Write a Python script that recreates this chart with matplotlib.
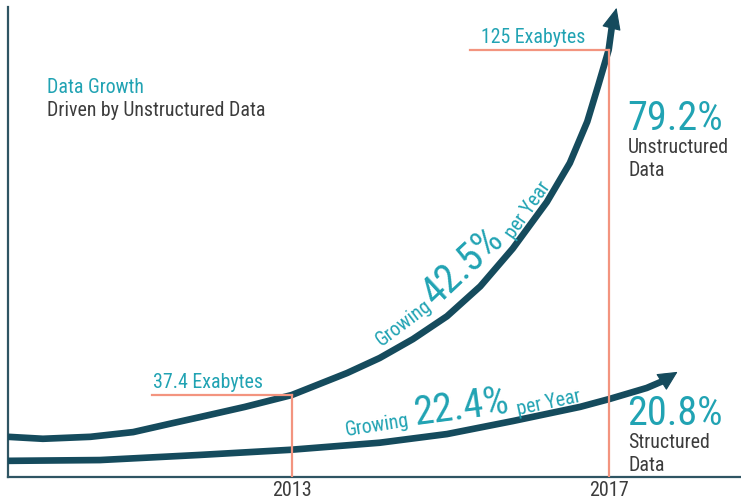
import matplotlib
matplotlib.use('Agg')
import matplotlib.pyplot as plt
from matplotlib import font_manager
from matplotlib.patches import FancyArrowPatch

# Data (year, exabytes); last point is the arrow tip
unstructured_years = [2009.42, 2009.86, 2010.46, 2011.00, 2011.46, 2011.84, 2012.41,
                      2013.00, 2013.70, 2014.11, 2014.53, 2014.96, 2015.38, 2015.79,
                      2016.22, 2016.51, 2016.73, 2016.87, 2017.00, 2017.04, 2017.10]
unstructured_eb = [26.8, 26.3, 26.8, 28.0, 30.1, 31.8, 34.4,
                   37.4, 43.0, 46.8, 51.6, 57.4, 65.0, 74.6,
                   86.4, 96.3, 106.8, 116.1, 125.0, 130.9, 135.7]

structured_years = [2009.42, 2010.58, 2011.84, 2012.98, 2014.11, 2014.96,
                    2015.79, 2016.64, 2017.01, 2017.48, 2017.69, 2017.87]
structured_eb = [20.7, 20.9, 22.2, 23.5, 25.3, 27.5, 30.8, 34.4, 36.4, 39.2, 41.0, 43.3]

marker_years = [2013, 2017]
marker_eb = [37.4, 125.0]
marker_labels = ['37.4 Exabytes', '125 Exabytes']
marker_line_start = [2011.24, 2015.25]

tick_years = [2013, 2017]
tick_labels = ['2013', '2017']

DARK = '#154b5d'
TEAL = '#21a3b3'
SALMON = '#f3947f'
GRAY = '#3c3c3c'
AXIS = '#2f5563'
SMALL = 14.3
BIG = 29

# pick a condensed font if one is installed
names = {f.name for f in font_manager.fontManager.ttflist}
font = 'DejaVu Sans'
for cand in ['Roboto Condensed', 'Liberation Sans Narrow', 'Arial Narrow', 'Roboto']:
    if cand in names:
        font = cand
        break
plt.rcParams['font.family'] = [font, 'DejaVu Sans']

W, H = 741, 499
fig = plt.figure(figsize=(W / 100, H / 100), dpi=100)
ax = fig.add_axes([8 / W, (H - 477) / H, (W - 8) / W, (477 - 7) / H])
ax.set_xlim(2009.42, 2018.67)
ax.set_ylim(16.6, 135.9)

for s in ['top', 'right']:
    ax.spines[s].set_visible(False)
for s in ['left', 'bottom']:
    ax.spines[s].set_color(AXIS)
    ax.spines[s].set_linewidth(1.6)
ax.set_yticks([])
ax.set_xticks(tick_years)
ax.set_xticklabels(tick_labels, fontsize=14.5, color=GRAY)
ax.tick_params(axis='x', length=0, pad=3)


def curve(xs, ys, head_len):
    # line up to the head base, then a filled head to the tip
    ax.plot(xs[:-1], ys[:-1], color=DARK, lw=4.8, solid_capstyle='butt',
            solid_joinstyle='round', zorder=3)
    arr = FancyArrowPatch((xs[-2], ys[-2]), (xs[-1], ys[-1]),
                          arrowstyle=f'-|>,head_length={head_len},head_width=0.62',
                          mutation_scale=10, color=DARK, lw=0.8,
                          shrinkA=0, shrinkB=0, zorder=3)
    ax.add_patch(arr)


curve(unstructured_years, unstructured_eb, 1.4)
curve(structured_years, structured_eb, 1.26)

# salmon guide lines
for yr, eb, x0 in zip(marker_years, marker_eb, marker_line_start):
    ax.plot([x0, yr], [eb, eb], color=SALMON, lw=1.6, zorder=4)
    ax.plot([yr, yr], [ax.get_ylim()[0], eb], color=SALMON, lw=1.6, zorder=4)


def px(x, y):
    return x / W, 1 - y / H


def label(x, y, s, size=SMALL, color=TEAL):
    fig.text(*px(x, y), s, fontsize=size, color=color, ha='left', va='baseline')


label(153, 388, marker_labels[0])
label(481, 43, marker_labels[1])

# header
label(47, 93, 'Data Growth')
label(47, 116, 'Driven by Unstructured Data', color=GRAY)

# right-hand shares
label(627, 130, '79.2%', size=BIG)
label(628, 153, 'Unstructured', color=GRAY)
label(628, 176, 'Data', color=GRAY)
label(627, 425, '20.8%', size=BIG)
label(628, 448, 'Structured', color=GRAY)
label(628, 471, 'Data', color=GRAY)


# text along the curves
def along(x, y, s, size, rot):
    fig.text(*px(x, y), s, fontsize=size, color=TEAL, rotation=rot,
             rotation_mode='anchor', ha='left', va='baseline')


along(381, 347, 'Growing', SMALL, 37)
along(436, 307, '42.5%', BIG, 43)
along(514, 240, 'per Year', SMALL, 55)

along(346, 436, 'Growing', SMALL, 9)
along(415, 425, '22.4%', BIG, 7.5)
along(518, 415, 'per Year', SMALL, 12)

fig.savefig('out.png', dpi=100)
